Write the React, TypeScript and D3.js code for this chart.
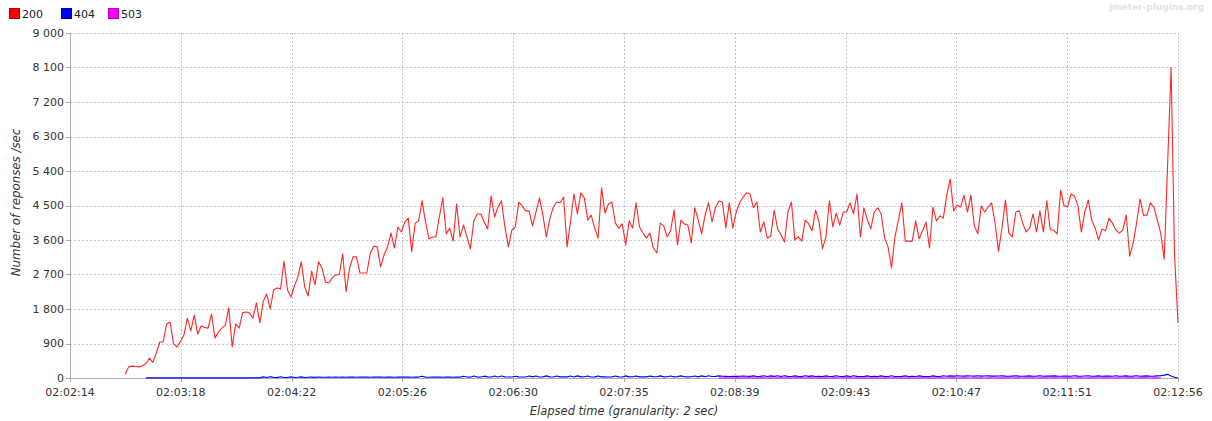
import React from "react";
import * as d3 from "d3";

// ---- data ----
const seriesNames = ["200", "404", "503"];
const seriesColors = ["#ff0000", "#0000ff", "#ff00ff"];
const xTickLabels = ["02:02:14", "02:03:18", "02:04:22", "02:05:26", "02:06:30", "02:07:35", "02:08:39", "02:09:43", "02:10:47", "02:11:51", "02:12:56"];
const yTickValues = [0, 900, 1800, 2700, 3600, 4500, 5400, 6300, 7200, 8100, 9000];
const yTickLabels = ["0", "900", "1 800", "2 700", "3 600", "4 500", "5 400", "6 300", "7 200", "8 100", "9 000"];
const totalSeconds = 642; // 02:02:14 -> 02:12:56
const granularity = 2;

// seconds after 02:02:14 of first point
const start200 = 32;
const values200 = [
  100, 290, 310, 300, 290, 320, 380, 520, 410, 650,
  940, 940, 1410, 1460, 890, 810, 960, 1120, 1560, 1230,
  1640, 1150, 1360, 1320, 1300, 1670, 1040, 1200, 1300, 1380,
  1830, 810, 1410, 1300, 1700, 1720, 1700, 1560, 1960, 1440,
  2000, 2190, 1800, 2300, 2350, 2320, 3050, 2300, 2110, 2400,
  2630, 3030, 2370, 2140, 2790, 2430, 3030, 2870, 2500, 2480,
  2610, 2690, 2700, 3240, 2250, 2870, 3160, 3160, 2740, 2740,
  2740, 3260, 3440, 3420, 2900, 3210, 3420, 3780, 3390, 3940,
  3810, 4070, 4170, 3290, 4040, 4100, 4620, 4070, 3630, 3680,
  3680, 4200, 4700, 3760, 3910, 3570, 4540, 3680, 3990, 3680,
  3370, 4100, 4280, 4280, 4070, 3890, 4750, 4200, 4460, 4620,
  3940, 3420, 3860, 3940, 4590, 4490, 4360, 4360, 3970, 4330,
  4700, 4250, 3680, 4150, 4460, 4590, 4570, 4720, 3420, 4070,
  4800, 4280, 4830, 4700, 4120, 4250, 3910, 3650, 4960, 4300,
  4540, 4590, 4040, 3910, 4020, 3470, 4100, 3910, 4570, 3940,
  3780, 3650, 3780, 3390, 3260, 4040, 3970, 3680, 3840, 4380,
  3470, 4120, 4020, 3990, 3520, 4440, 4120, 3760, 4250, 4570,
  4070, 4440, 4620, 4590, 3910, 4570, 3910, 4330, 4570, 4720,
  4830, 4800, 4440, 4590, 3810, 4070, 3650, 3700, 4380, 3890,
  3730, 3550, 4330, 4590, 3600, 3680, 3570, 4120, 4020, 3840,
  4380, 4070, 3370, 3680, 4620, 3940, 4300, 3990, 4330, 4330,
  4570, 4280, 4800, 3680, 4440, 4120, 3890, 4330, 4440, 4280,
  3650, 3420, 2870, 3680, 4120, 4570, 3570, 3570, 3570, 4100,
  3630, 3840, 4070, 3390, 4460, 4100, 4230, 4170, 4770, 5190,
  4360, 4510, 4460, 4770, 4330, 4770, 3970, 3760, 4490, 4330,
  4460, 4570, 4040, 3310, 3910, 4640, 3780, 3680, 4330, 4360,
  4040, 3810, 3910, 4280, 3810, 4360, 3810, 4620, 3860, 3860,
  3760, 4900, 4490, 4460, 4800, 4750, 4490, 3810, 4330, 4640,
  4120, 3910, 3600, 3890, 3840, 4170, 4040, 3860, 3780, 3860,
  4250, 3180, 3520, 4040, 4670, 4250, 4250, 4570, 4460, 4120,
  3780, 3100, 5600, 8100, 3200, 1440,
];

const start404 = 44;
const values404 = [
  2, 3, 2, 3,
  2, 3, 4, 2, 3, 2, 4, 3, 2, 3,
  4, 3, 2, 3, 4, 2, 3, 4, 3, 2,
  3, 4, 2, 5, 3, 4, 6, 3, 5, 4,
  30, 12, 35, 14, 10, 32, 15, 12, 30, 14,
  18, 30, 15, 20, 22, 16, 28, 18, 20, 25,
  20, 22, 18, 24, 20, 22, 25, 20, 22, 24,
  22, 20, 24, 22, 25, 20, 22, 24, 20, 22,
  25, 22, 24, 20, 22, 24, 45, 22, 20, 24,
  22, 25, 20, 24, 22, 20, 24, 22, 48, 25,
  22, 50, 24, 26, 48, 30, 25, 52, 28, 50,
  30, 26, 28, 45, 30, 28, 25, 50, 30, 52,
  28, 30, 55, 30, 28, 50, 30, 32, 30, 52,
  28, 55, 30, 32, 50, 28, 30, 54, 30, 32,
  28, 30, 52, 30, 28, 55, 30, 32, 50, 30,
  32, 30, 50, 35, 32, 55, 30, 34, 52, 30,
  35, 55, 32, 30, 34, 52, 30, 55, 35, 60,
  40, 42, 55, 45, 42, 40, 44, 42, 45, 50,
  45, 42, 55, 40, 42, 58, 40, 55, 42, 60,
  40, 58, 42, 40, 55, 42, 40, 58, 42, 55,
  40, 42, 38, 55, 40, 42, 60, 40, 38, 55,
  40, 58, 42, 40, 38, 55, 40, 42, 40, 55,
  38, 40, 58, 40, 38, 42, 55, 40, 42, 40,
  55, 42, 40, 38, 55, 42, 40, 58, 45, 55,
  50, 55, 52, 50, 55, 52, 50, 58, 50, 52,
  55, 50, 48, 52, 55, 48, 45, 50, 55, 48,
  45, 50, 55, 45, 48, 58, 45, 50, 48, 55,
  48, 45, 52, 48, 45, 58, 48, 45, 52, 58,
  45, 48, 55, 45, 48, 52, 45, 58, 45, 48,
  55, 45, 48, 58, 45, 50, 55, 45, 48, 55,
  60, 75, 95, 55, 20, 0,
];

const start503 = 376;
const values503 = [
  2, 1, 2, 3, 1, 2, 2, 1, 3, 2,
  1, 2, 2, 3, 1, 2, 1, 2, 3, 2,
  2, 1, 2, 2, 3, 1, 2, 2, 1, 2,
  3, 2, 1, 2, 2, 1, 3, 2, 2, 1,
  2, 3, 2, 1, 2, 2, 3, 1, 2, 2,
  1, 2, 3, 2, 1, 2, 2, 1, 2, 3,
  2, 2, 1, 2, 3, 2, 1, 2, 2, 1,
  3, 2, 2, 1, 2, 2, 3, 1, 2, 2,
  1, 2, 2, 3, 2, 1, 2, 2, 1, 3,
  2, 2, 1, 2, 3, 2, 1, 2, 2, 1,
  2, 3, 2, 1, 2, 2, 1, 3, 2, 2,
  1, 2, 2, 3, 1, 2, 2, 1, 2, 3,
  2, 1, 2, 2, 3, 1, 2, 2, 1,
];

// ---- layout ----
const W = 1212;
const H = 421;
const M = { left: 70, right: 1178, top: 33, bottom: 378 };
const FONT = "'DejaVu Sans', sans-serif";
const GRID = "#c4c6d0";
const AXIS = "#a8acbc";

export default function App() {
  const x = d3.scaleLinear().domain([0, totalSeconds]).range([M.left, M.right]);
  const y = d3.scaleLinear().domain([0, 9000]).range([M.bottom, M.top]);
  const xTicks = xTickLabels.map((_, k) => (k * totalSeconds) / (xTickLabels.length - 1));

  const mk = (start: number, vals: number[]) =>
    d3
      .line<number>()
      .x((_, i) => x(start + i * granularity))
      .y((v) => y(v))(vals) || "";

  const series = [
    { name: seriesNames[0], color: seriesColors[0], stroke: "#ff2626", d: mk(start200, values200) },
    { name: seriesNames[1], color: seriesColors[1], stroke: "#0000ff", d: mk(start404, values404) },
    { name: seriesNames[2], color: seriesColors[2], stroke: "#ff00ff", d: mk(start503, values503) },
  ];

  const legendX = [9, 61, 108];

  return (
    <svg
      width={W}
      height={H}
      style={{ position: "absolute", left: 0, top: 0, background: "#fff" }}
      fontFamily={FONT}
    >
      <rect x={0} y={0} width={W} height={H} fill="#fff" />
      {/* legend */}
      {series.map((s, k) => (
        <g key={s.name}>
          <rect x={legendX[k] + 0.5} y={8.5} width={10} height={10} fill={s.color} stroke={d3.color(s.color)!.darker(1).toString()} strokeWidth={1} />
          <text x={legendX[k] + 13} y={17.5} fontSize={11} fill="#222">
            {s.name}
          </text>
        </g>
      ))}
      <text x={1204} y={10} fontSize={9} fontWeight="bold" fill="#e4e4e4" textAnchor="end">
        jmeter-plugins.org
      </text>

      {/* grid */}
      {yTickValues.map((v) =>
        v === 0 ? null : (
          <line key={"gy" + v} x1={M.left} x2={M.right} y1={Math.round(y(v)) + 0.5} y2={Math.round(y(v)) + 0.5} stroke={GRID} strokeDasharray="2,2" strokeWidth={1} />
        )
      )}
      {xTicks.map((t, k) =>
        k === 0 ? null : (
          <line key={"gx" + k} x1={Math.round(x(t)) + 0.5} x2={Math.round(x(t)) + 0.5} y1={M.top} y2={M.bottom} stroke={GRID} strokeDasharray="2,2" strokeWidth={1} />
        )
      )}

      {/* axes */}
      <line x1={M.left + 0.5} x2={M.left + 0.5} y1={M.top} y2={M.bottom + 0.5} stroke={AXIS} />
      <line x1={M.left} x2={M.right + 0.5} y1={M.bottom + 0.5} y2={M.bottom + 0.5} stroke={AXIS} />
      {yTickValues.map((v, k) => (
        <g key={"ty" + v}>
          <line x1={M.left - 4} x2={M.left} y1={Math.round(y(v)) + 0.5} y2={Math.round(y(v)) + 0.5} stroke={AXIS} />
          <text x={M.left - 6} y={y(v)} dy="0.36em" fontSize={11} textAnchor="end" fill="#333">
            {yTickLabels[k]}
          </text>
        </g>
      ))}
      {xTicks.map((t, k) => (
        <g key={"tx" + k}>
          <line x1={Math.round(x(t)) + 0.5} x2={Math.round(x(t)) + 0.5} y1={M.bottom} y2={M.bottom + 4} stroke={AXIS} />
          <text x={x(t)} y={396} fontSize={11} textAnchor="middle" fill="#333">
            {xTickLabels[k]}
          </text>
        </g>
      ))}

      {/* axis titles */}
      <text x={(M.left + M.right) / 2} y={415} fontSize={11.5} fontStyle="italic" textAnchor="middle" fill="#333">
        Elapsed time (granularity: 2 sec)
      </text>
      <text transform={`translate(20,${(M.top + M.bottom) / 2 - 3}) rotate(-90)`} fontSize={11.8} fontStyle="italic" textAnchor="middle" fill="#333">
        Number of reponses /sec
      </text>

      {/* series */}
      {series.map((s) => (
        <path key={"p" + s.name} d={s.d} fill="none" stroke={s.stroke} strokeWidth={1.1} strokeLinejoin="round" />
      ))}
    </svg>
  );
}
